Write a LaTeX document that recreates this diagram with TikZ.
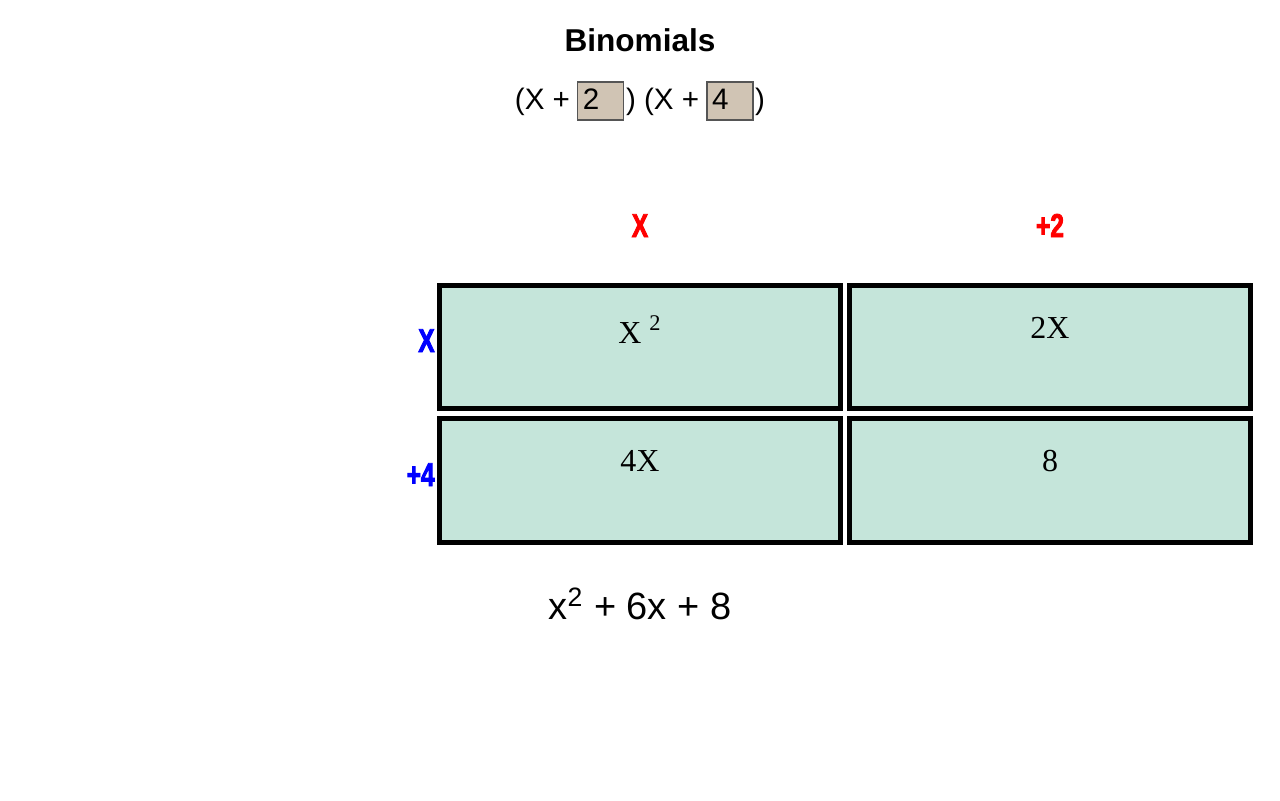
\documentclass[tikz,border=0pt]{standalone}
\usepackage{fontspec}
\setmainfont{Liberation Serif}
\newfontfamily\uisans{Liberation Sans}
\newfontfamily\headfont[FakeStretch=0.74,FakeBold=2.6]{Liberation Sans Bold}
\definecolor{cellfill}{HTML}{C5E5DA}
\definecolor{inputfill}{HTML}{D0C4B4}
\definecolor{inputedge}{HTML}{555555}
\newcommand\inbox[1]{{\setlength\fboxsep{0pt}\setlength\fboxrule{0.6pt}%
  \fcolorbox{inputedge}{inputfill}{\makebox[22.4pt][l]{\rule[-5pt]{0pt}{18.4pt}\hspace{2.2pt}#1}}}}
\begin{document}
\begin{tikzpicture}[x=0.5pt,y=-0.5pt,
  cell/.style={draw=black, line width=2.5pt, fill=cellfill, minimum width=200.5pt, minimum height=61.75pt, inner sep=0pt},
  celltext/.style={anchor=base, inner sep=0pt, font=\fontsize{16}{19}\selectfont},
  colhead/.style={anchor=base, inner sep=0pt, text=red, font=\headfont\fontsize{16.5}{19}\selectfont},
  rowhead/.style={anchor=base east, inner sep=0pt, text=blue, font=\headfont\fontsize{16.5}{19}\selectfont}]
\useasboundingbox (0,0) rectangle (1280,800);
\node[font=\uisans\bfseries\fontsize{15.8}{18}\selectfont] (title) at (640,40) {Binomials};
\node[inner sep=0pt, font=\uisans\fontsize{14.8}{17}\selectfont] (factors) at (640,101) {(X +\kern3.6pt\inbox{2}\kern0.8pt) (X +\kern3.6pt\inbox{4}\kern0.8pt)};
\node[colhead] (hx) at (640,237) {X};
\node[colhead] (h2) at (1050,237) {+2};
\node[rowhead] (vx) at (435,352) {X};
\node[rowhead] (v4) at (435,486) {+4};
\node[cell] (c11) at (640,347) {};
\node[cell] (c12) at (1050,347) {};
\node[cell] (c21) at (640,480.5) {};
\node[cell] (c22) at (1050,480.5) {};
\node[celltext] (t11) at (640,343) {X \textsuperscript{2}};
\node[celltext] (t12) at (1050,338) {2X};
\node[celltext] (t21) at (640,471) {4X};
\node[celltext] (t22) at (1050,471) {8};
\node[anchor=base, inner sep=0pt, font=\uisans\fontsize{19}{22}\selectfont] (result) at (640,619) {x\textsuperscript{2} + 6x + 8};
\end{tikzpicture}
\end{document}
